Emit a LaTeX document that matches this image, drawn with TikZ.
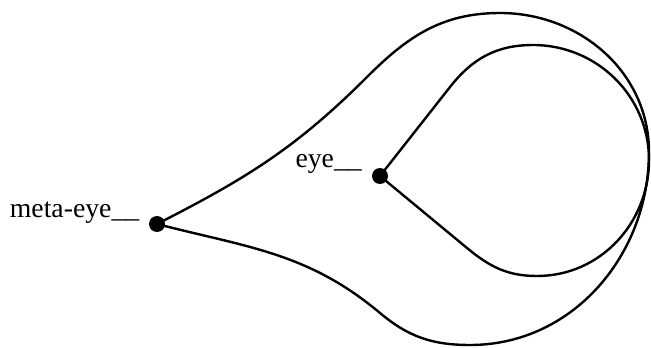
\documentclass[tikz,border=0pt]{standalone}
\usepackage{fontspec}
\setmainfont{Liberation Serif}
\begin{document}
\begin{tikzpicture}[x=0.75pt,y=0.75pt,
  curve/.style={draw=black,line width=1.8pt},
  dot/.style={circle,fill=black,inner sep=0pt,minimum size=12pt},
  lbl/.style={anchor=base east,inner sep=0pt,font=\fontsize{20.8}{25}\selectfont}]
\useasboundingbox (0,0) rectangle (651,347);
% points (y measured upward)
\coordinate (A) at (367,270);
\coordinate (OTop) at (500,334);
\coordinate (OR) at (649,195);
\coordinate (OBot) at (470,2);
\coordinate (B) at (380,34);
\coordinate (U1) at (450,260);
\coordinate (ITop) at (533,302);
\coordinate (IR) at (649,187);
\coordinate (IBot) at (537,71);
\coordinate (L2) at (467,99);
\node[dot] (meta) at (157,123) {};
\node[dot] (eye) at (380,171) {};
\node[lbl] (metalbl) at (139.5,129) {meta-eye\_\_};
\node[lbl] (eyelbl) at (362,179) {eye\_\_};
% outer teardrop
\draw[curve] (meta.center) to[out=27,in=225] (A) to[out=45,in=180] (OTop)
  to[out=0,in=90] (OR) to[out=-90,in=0] (OBot) to[out=180,in=-40] (B)
  to[out=140,in=-14.5] (meta.center);
% inner teardrop
\draw[curve] (eye.center) -- (U1) to[out=51.8,in=180] (ITop)
  to[out=0,in=90] (IR) to[out=-90,in=0] (IBot) to[out=180,in=-39.6] (L2)
  -- (eye.center);
\end{tikzpicture}
\end{document}
